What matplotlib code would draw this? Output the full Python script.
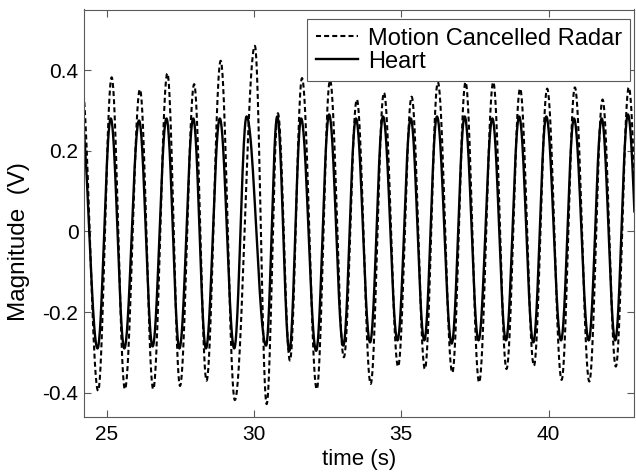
import numpy as np
import matplotlib
matplotlib.use("Agg")
import matplotlib.pyplot as plt

# extrema (time in s, magnitude in V)
radar_peak_t = [24.15, 25.17, 26.13, 27.06, 27.97, 28.87, 30.03, 30.81, 31.63, 32.58, 33.49,
                34.41, 35.35, 36.24, 37.18, 38.12, 39.03, 39.95, 40.89, 41.83, 42.72]
radar_peak_v = [0.37, 0.382, 0.352, 0.392, 0.365, 0.423, 0.46, 0.293, 0.38, 0.375, 0.327,
                0.344, 0.334, 0.37, 0.37, 0.37, 0.354, 0.354, 0.357, 0.327, 0.357]
radar_trough_t = [24.71, 25.62, 26.58, 27.49, 28.39, 29.35, 30.43, 31.22, 32.13, 33.05, 33.96,
                  34.89, 35.80, 36.73, 37.64, 38.57, 39.50, 40.44, 41.38, 42.28, 43.2]
radar_trough_v = [-0.395, -0.391, -0.391, -0.383, -0.370, -0.418, -0.428, -0.32, -0.391, -0.312, -0.378,
                  -0.335, -0.341, -0.35, -0.374, -0.341, -0.333, -0.368, -0.372, -0.335, -0.35]

heart_peak_t = [24.13, 25.14, 26.10, 27.03, 27.94, 28.84, 29.75, 30.79, 31.60, 32.55, 33.46,
                34.38, 35.32, 36.21, 37.15, 38.09, 39.00, 39.92, 40.86, 41.80, 42.69]
heart_peak_v = [0.29, 0.28, 0.275, 0.28, 0.28, 0.28, 0.285, 0.285, 0.28, 0.29, 0.28,
                0.285, 0.28, 0.285, 0.285, 0.28, 0.285, 0.285, 0.28, 0.28, 0.29]
heart_trough_t = [24.69, 25.60, 26.56, 27.47, 28.37, 29.33, 30.41, 31.20, 32.11, 33.03, 33.94,
                  34.87, 35.78, 36.71, 37.62, 38.55, 39.48, 40.42, 41.36, 42.26, 43.18]
heart_trough_v = [-0.29, -0.29, -0.285, -0.29, -0.29, -0.29, -0.283, -0.296, -0.296, -0.283, -0.275,
                  -0.27, -0.27, -0.278, -0.27, -0.27, -0.275, -0.27, -0.27, -0.27, -0.28]


def trace(peak_t, peak_v, trough_t, trough_v, n=40):
    # join the extrema with half-cosine strokes
    pts = sorted(zip(peak_t + trough_t, peak_v + trough_v))
    ts, vs = [], []
    for (t0, v0), (t1, v1) in zip(pts[:-1], pts[1:]):
        s = np.linspace(0, 1, n, endpoint=False)
        ts.append(t0 + (t1 - t0) * s)
        vs.append(v0 + (v1 - v0) * (1 - np.cos(np.pi * s)) / 2)
    ts.append([pts[-1][0]])
    vs.append([pts[-1][1]])
    return np.concatenate(ts), np.concatenate(vs)


plt.rcParams['font.family'] = ['Liberation Sans', 'DejaVu Sans']
plt.rcParams['axes.unicode_minus'] = False

fig = plt.figure(figsize=(6.36, 4.75), dpi=100)
ax = fig.add_axes([0.132, 0.122, 0.865, 0.858])

t_r, v_r = trace(radar_peak_t, radar_peak_v, radar_trough_t, radar_trough_v)
t_h, v_h = trace(heart_peak_t, heart_peak_v, heart_trough_t, heart_trough_v)

ax.plot(t_r, v_r, color='black', lw=1.5, dashes=[2.4, 1.5], label='Motion Cancelled Radar')
ax.plot(t_h, v_h, color='black', lw=1.7, label='Heart')

ax.set_xlim(24.23, 42.9)
ax.set_ylim(-0.46, 0.55)
ax.set_xticks([25, 30, 35, 40])
ax.set_yticks([-0.4, -0.2, 0, 0.2, 0.4])
ax.set_yticklabels(['-0.4', '-0.2', '0', '0.2', '0.4'])
ax.tick_params(direction='in', top=True, right=True, labelsize=15, length=5,
               color='0.35', width=0.8)
ax.tick_params(axis='x', pad=6)
ax.tick_params(axis='y', pad=4)
for sp in ax.spines.values():
    sp.set_color('0.35')
    sp.set_linewidth(0.8)

ax.set_xlabel('time (s)', fontsize=16, va='top')
ax.xaxis.set_label_coords(0.5, -0.078)
ax.set_ylabel('Magnitude  (V)', fontsize=17.5)
ax.yaxis.set_label_coords(-0.098, 0.43)

leg = ax.legend(loc='upper right', bbox_to_anchor=(0.9927, 0.976), fontsize=17,
                frameon=True, fancybox=False, edgecolor='0.35', framealpha=1,
                borderpad=0.35, handlelength=1.8, handletextpad=0.4,
                labelspacing=0.05, borderaxespad=0)
leg.get_frame().set_linewidth(0.8)

fig.savefig('out.png', dpi=100)
